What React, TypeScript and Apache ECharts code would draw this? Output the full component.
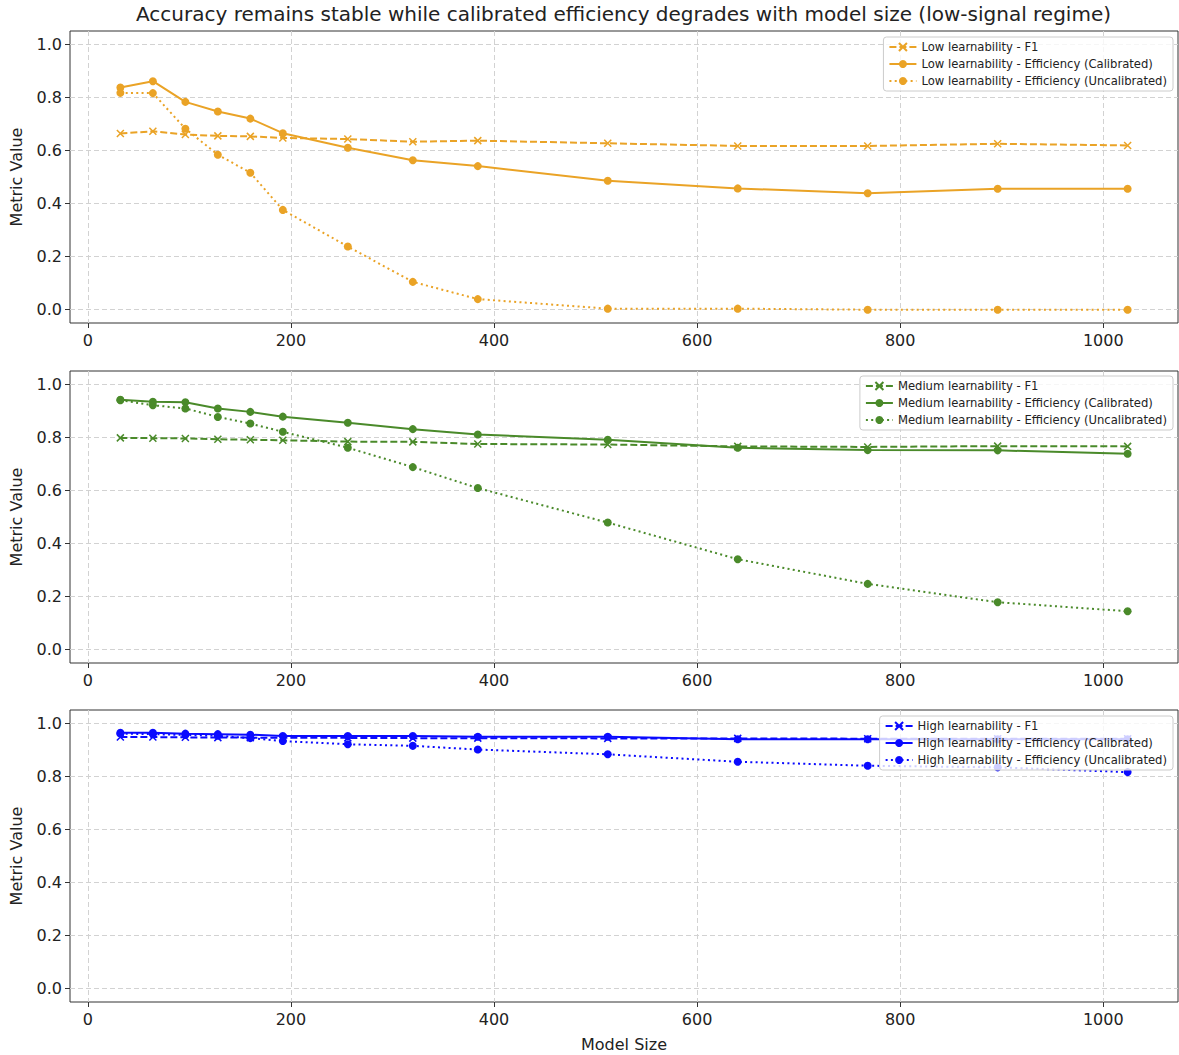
import React, { useEffect, useRef } from "react";
import * as echarts from "echarts";

const modelSizes = [32, 64, 96, 128, 160, 192, 256, 320, 384, 512, 640, 768, 896, 1024];

const lowF1 = [0.664, 0.672, 0.66, 0.655, 0.653, 0.647, 0.643, 0.633, 0.637, 0.627, 0.617, 0.617, 0.625, 0.619];
const lowCal = [0.837, 0.861, 0.783, 0.747, 0.72, 0.665, 0.61, 0.563, 0.541, 0.486, 0.457, 0.439, 0.456, 0.456];
const lowUncal = [0.817, 0.816, 0.682, 0.584, 0.516, 0.376, 0.238, 0.105, 0.04, 0.004, 0.004, 0.0, 0.0, 0.0];

const medF1 = [0.798, 0.797, 0.796, 0.793, 0.791, 0.789, 0.784, 0.783, 0.775, 0.773, 0.766, 0.764, 0.767, 0.766];
const medCal = [0.942, 0.934, 0.932, 0.909, 0.896, 0.878, 0.855, 0.831, 0.811, 0.791, 0.761, 0.752, 0.751, 0.738];
const medUncal = [0.94, 0.921, 0.909, 0.877, 0.852, 0.821, 0.761, 0.688, 0.609, 0.479, 0.341, 0.248, 0.179, 0.145];

const highF1 = [0.948, 0.948, 0.947, 0.946, 0.946, 0.945, 0.945, 0.944, 0.944, 0.943, 0.943, 0.942, 0.942, 0.942];
const highCal = [0.964, 0.964, 0.961, 0.959, 0.957, 0.952, 0.952, 0.952, 0.949, 0.949, 0.94, 0.94, 0.94, 0.94];
const highUncal = [0.961, 0.959, 0.956, 0.953, 0.944, 0.933, 0.921, 0.915, 0.901, 0.883, 0.855, 0.84, 0.834, 0.816];

const xTicks = [0, 200, 400, 600, 800, 1000];
const yTicks = [0, 0.2, 0.4, 0.6, 0.8, 1.0];

const groups = [
  { name: "Low learnability", color: "#EAA326", f1: lowF1, cal: lowCal, uncal: lowUncal },
  { name: "Medium learnability", color: "#4A8A2A", f1: medF1, cal: medCal, uncal: medUncal },
  { name: "High learnability", color: "#0a0aff", f1: highF1, cal: highCal, uncal: highUncal },
];

const FONT = "DejaVu Sans";
const TITLE = "Accuracy remains stable while calibrated efficiency degrades with model size (low-signal regime)";
const XMARK = "path://M0,0L10,10M0,10L10,0";

export default function App() {
  const ref = useRef<HTMLDivElement>(null);

  useEffect(() => {
    document.body.style.margin = "0";
    const chart = echarts.init(ref.current!, null, { renderer: "svg" });
    const tops = [31, 371, 710];
    const plotH = 292;

    const grid = tops.map((t) => ({
      left: 69,
      right: 1,
      top: t,
      height: plotH,
      show: true,
      borderColor: "#333",
      borderWidth: 1,
      backgroundColor: "transparent",
    }));

    const xAxis = tops.map((_, i) => ({
      type: "value",
      gridIndex: i,
      min: -17.6,
      max: 1073.6,
      splitNumber: 5,
      name: i === 2 ? "Model Size" : "",
      nameLocation: "middle",
      nameGap: 34,
      nameTextStyle: { fontFamily: FONT, fontSize: 16, color: "#222" },
      axisLine: { show: false, onZero: false },
      axisTick: { show: true, length: 5, customValues: xTicks, lineStyle: { color: "#333" } },
      axisLabel: {
        customValues: xTicks,
        fontFamily: FONT,
        fontSize: 16,
        color: "#222",
        margin: 9,
        formatter: (v: number) => String(Math.round(v)),
      },
      splitLine: { show: true, lineStyle: { color: "#d2d2d2", type: [5, 3], width: 1 } },
    }));

    const yAxis = tops.map((_, i) => ({
      type: "value",
      gridIndex: i,
      min: -0.05,
      max: 1.05,
      splitNumber: 5,
      name: "Metric Value",
      nameLocation: "middle",
      nameGap: 46,
      nameRotate: 90,
      nameTextStyle: { fontFamily: FONT, fontSize: 16, color: "#222" },
      axisLine: { show: false, onZero: false },
      axisTick: { show: true, length: 5, customValues: yTicks, lineStyle: { color: "#333" } },
      axisLabel: {
        customValues: yTicks,
        fontFamily: FONT,
        fontSize: 16,
        color: "#222",
        margin: 8,
        formatter: (v: number) => v.toFixed(1),
      },
      splitLine: { show: true, lineStyle: { color: "#d2d2d2", type: [5, 3], width: 1 } },
    }));

    const series: any[] = [];
    const legends: any[] = [];
    const legendTops = [37, 376, 716];

    groups.forEach((g, i) => {
      const n1 = `${g.name} - F1`;
      const n2 = `${g.name} - Efficiency (Calibrated)`;
      const n3 = `${g.name} - Efficiency (Uncalibrated)`;
      const pairs = (arr: number[]) => modelSizes.map((x, k) => [x, arr[k]]);
      series.push({
        name: n1,
        type: "line",
        xAxisIndex: i,
        yAxisIndex: i,
        data: pairs(g.f1),
        symbol: XMARK,
        symbolSize: 7,
        showAllSymbol: true,
        lineStyle: { color: g.color, width: 2, type: [7, 3] },
        itemStyle: { color: g.color, borderColor: g.color, borderWidth: 1.5 },
        z: 2,
      });
      series.push({
        name: n2,
        type: "line",
        xAxisIndex: i,
        yAxisIndex: i,
        data: pairs(g.cal),
        symbol: "circle",
        symbolSize: 8,
        showAllSymbol: true,
        lineStyle: { color: g.color, width: 2, type: "solid" },
        itemStyle: { color: g.color, borderWidth: 0 },
        z: 3,
      });
      series.push({
        name: n3,
        type: "line",
        xAxisIndex: i,
        yAxisIndex: i,
        data: pairs(g.uncal),
        symbol: "circle",
        symbolSize: 8,
        showAllSymbol: true,
        lineStyle: { color: g.color, width: 2, type: [2, 3.3] },
        itemStyle: { color: g.color, borderWidth: 0 },
        z: 4,
      });
      legends.push({
        data: [n1, n2, n3],
        orient: "vertical",
        right: 6,
        top: legendTops[i],
        itemWidth: 27,
        itemHeight: 10,
        itemGap: 5,
        padding: [4, 6, 4, 5],
        backgroundColor: "rgba(255,255,255,0.8)",
        borderColor: "#cccccc",
        borderWidth: 1,
        borderRadius: 3,
        textStyle: { fontFamily: FONT, fontSize: 11.6, color: "#222" },
        z: 10,
      });
    });

    chart.setOption({
      animation: false,
      textStyle: { fontFamily: FONT },
      grid,
      xAxis,
      yAxis,
      legend: legends,
      series,
      graphic: [
        {
          type: "text",
          x: 623.5,
          y: 14,
          style: {
            text: TITLE,
            fontFamily: FONT,
            fontSize: 20,
            fill: "#222",
            textAlign: "center",
            textVerticalAlign: "middle",
          },
        },
      ],
    });
    return () => chart.dispose();
  }, []);

  return <div ref={ref} style={{ width: 1179, height: 1055 }} />;
}
